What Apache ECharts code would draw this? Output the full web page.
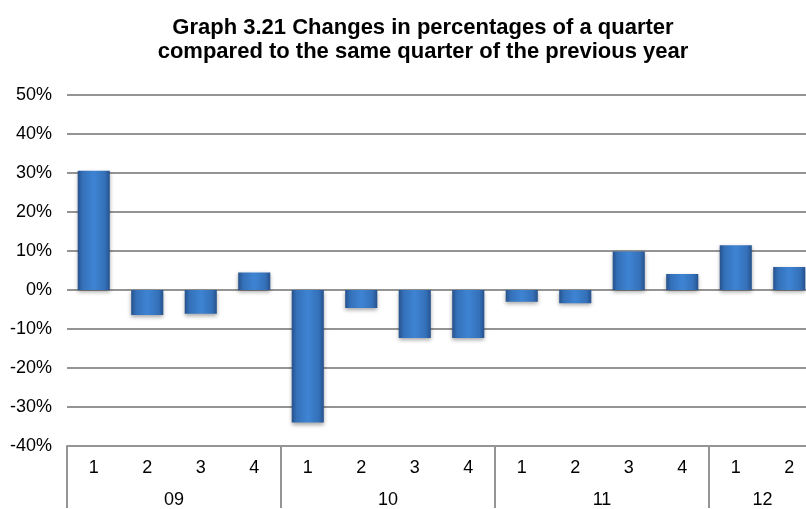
<!DOCTYPE html>
<html><head><meta charset="utf-8">
<script src="https://cdn.jsdelivr.net/npm/echarts@6/dist/echarts.min.js"></script>
<style>html,body{margin:0;padding:0;background:#fff;overflow:hidden;width:806px;height:509px}#c{width:816px;height:509px}</style>
</head><body><div id="c"></div>
<script>
var quarters = ['1','2','3','4','1','2','3','4','1','2','3','4','1','2'];
var years = ['09','10','11','12'];
var quartersPerYear = [4,4,4,2];
var changes = [30.6,-6.4,-6.1,4.5,-34.0,-4.6,-12.3,-12.3,-3.0,-3.4,9.9,4.1,11.5,5.9];
var yTicks = [-40,-30,-20,-10,0,10,20,30,40,50];

// group boundaries and centres derived from quartersPerYear
var bounds = [], centres = [], acc = 0;
quartersPerYear.forEach(function(n){ bounds.push(acc); centres.push(acc + n/2); acc += n; });

var font = 'Liberation Sans, Arial, sans-serif';
var chart = echarts.init(document.getElementById('c'));
chart.setOption({
  animation:false,
  title:{
    text:'Graph 3.21 Changes in percentages of a quarter\ncompared to the same quarter of the previous year',
    left:418, top:11, textAlign:'center',
    textStyle:{fontFamily:font,fontSize:22,fontWeight:'bold',color:'#000',lineHeight:24}
  },
  grid:{left:67,right:0,top:95,bottom:61,containLabel:false},
  yAxis:{
    type:'value', min:yTicks[0], max:yTicks[yTicks.length-1], interval:10,
    axisLine:{show:false}, axisTick:{show:false},
    axisLabel:{formatter:'{value}%',fontFamily:font,fontSize:18,color:'#000',margin:15},
    splitLine:{lineStyle:{color:'#949494',width:2}}
  },
  xAxis:[{
    type:'category', data:quarters, position:'bottom',
    axisLine:{onZero:false,lineStyle:{color:'#949494',width:2}},
    axisTick:{show:false},
    axisLabel:{fontFamily:font,fontSize:18,color:'#000',margin:13}
  },{
    type:'value', min:0, max:quarters.length, position:'bottom',
    axisLine:{show:false,onZero:false},
    splitLine:{show:false},
    axisTick:{show:true,customValues:bounds,length:62,lineStyle:{color:'#949494',width:2}},
    axisLabel:{customValues:centres,fontFamily:font,fontSize:18,color:'#000',margin:45,
      formatter:function(v){ return years[centres.indexOf(v)]; }}
  }],
  series:[{
    type:'bar', data:changes, barWidth:'60%', xAxisIndex:0,
    itemStyle:{
      color:new echarts.graphic.LinearGradient(0,0,1,0,[
        {offset:0,color:'#26528c'},{offset:0.15,color:'#3470b8'},
        {offset:0.5,color:'#3e84d4'},{offset:0.85,color:'#3470b8'},{offset:1,color:'#26528c'}]),
      shadowBlur:4, shadowColor:'rgba(0,0,0,0.35)', shadowOffsetY:2
    }
  }]
});
</script></body></html>
